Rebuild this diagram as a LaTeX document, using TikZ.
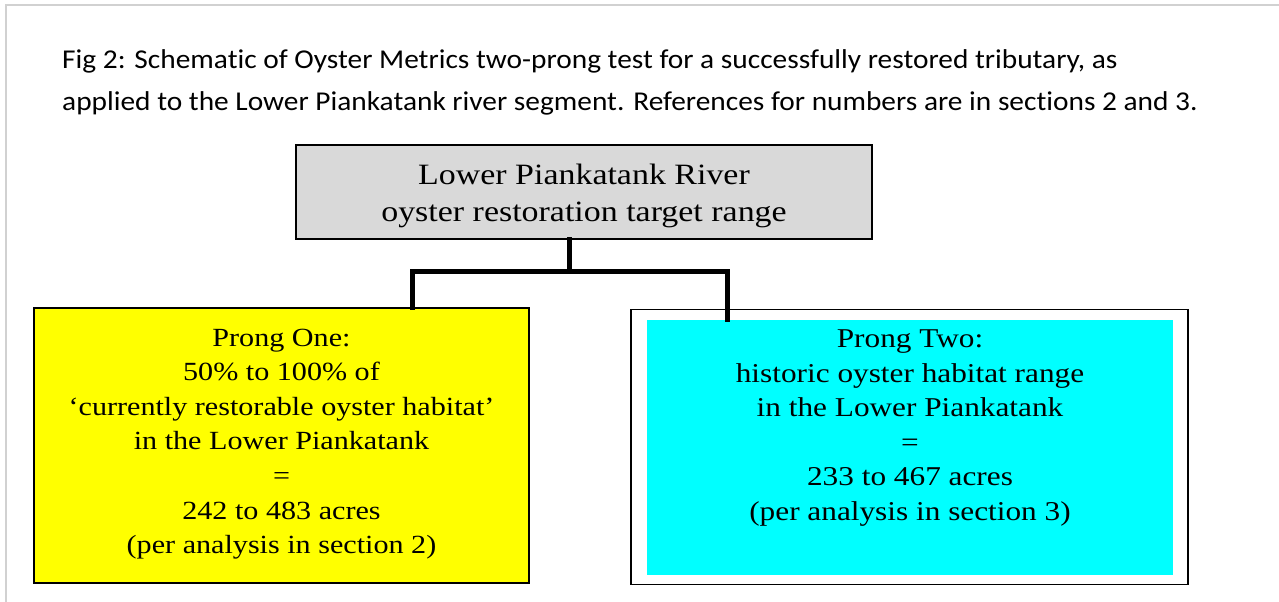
\documentclass[tikz,border=0pt]{standalone}
\usepackage{fontspec}
\setmainfont{Liberation Serif}
\newfontfamily\capfont[Ligatures=NoCommon, FakeStretch=1.08]{Carlito}
\newfontfamily\boxfont[FakeStretch=1.15]{Liberation Serif}
\usepackage{xcolor}
\usepackage{tikz}
\usetikzlibrary{positioning}
\usetikzlibrary{calc}
\tikzset{>=latex}
\definecolor{rangegray}{HTML}{D9D9D9}
\definecolor{prongyellow}{HTML}{FFFF00}
\definecolor{prongcyan}{HTML}{00FFFF}

\begin{document}
\begin{tikzpicture}[
        x=1pt, y=-1pt,
        pageframe/.style={draw=black!18, line width=2pt},
        boxtext/.style={align=center, font=\boxfont\fontsize{#1}{34.6}\selectfont, inner sep=0pt},
        rangebox/.style={draw, line width=1.6pt, fill=rangegray, minimum width=576pt, minimum height=94pt},
        prongbox/.style={draw, line width=1.6pt, minimum width=#1, minimum height=275pt},
        tree/.style={line width=5pt, line cap=rect}
    ]
    \useasboundingbox (0,0) rectangle (1279,602);

    %=== Page frame and caption ===%
    \draw[pageframe] (6,602) -- (6,5.5) -- (1279,5.5);
    \node[anchor=base west, align=left, inner sep=0pt, font=\capfont\fontsize{27.2}{41.7}\selectfont]
        (caption) at (62,110) {Fig 2: Schematic of Oyster Metrics two-prong test for a successfully restored tributary, as\\
        applied to the Lower Piankatank river segment. References for numbers are in sections 2 and 3.};

    %=== Boxes ===%
    \node[rangebox] (range) at (584,192) {};
    \node[align=center, inner sep=0pt, font=\boxfont\fontsize{29.5}{37}\selectfont]
        (rangetext) at (584,196) {Lower Piankatank River\\oyster restoration target range};

    \node[prongbox=495pt, fill=prongyellow] (one) at (281.5,445.5) {};
    \node[boxtext=26.2] (onetext) at (281.5,444) {Prong One:\\50\% to 100\% of\\‘currently restorable oyster habitat’\\
        in the Lower Piankatank\\=\\242 to 483 acres\\(per analysis in section 2)};

    \node[prongbox=557pt] (twoframe) at (909.5,447) {};
    \node[fill=prongcyan, minimum width=526pt, minimum height=255pt, inner sep=0pt] (two) at (910,447.5) {};
    \node[boxtext=27.2] (twotext) at (910,428) {Prong Two:\\historic oyster habitat range\\in the Lower Piankatank\\=\\
        233 to 467 acres\\(per analysis in section 3)};

    %=== Connectors ===%
    \coordinate (hub) at (569,271);
    \coordinate (forkL) at (412,271);
    \coordinate (forkR) at (727,271);
    \draw[tree] (hub |- range.south) -- (hub);
    \draw[tree] (forkL) -- (forkR);
    \draw[tree] (forkL) -- (forkL |- one.north);
    \draw[tree] (forkR) -- (forkR |- two.north);
\end{tikzpicture}
\end{document}
